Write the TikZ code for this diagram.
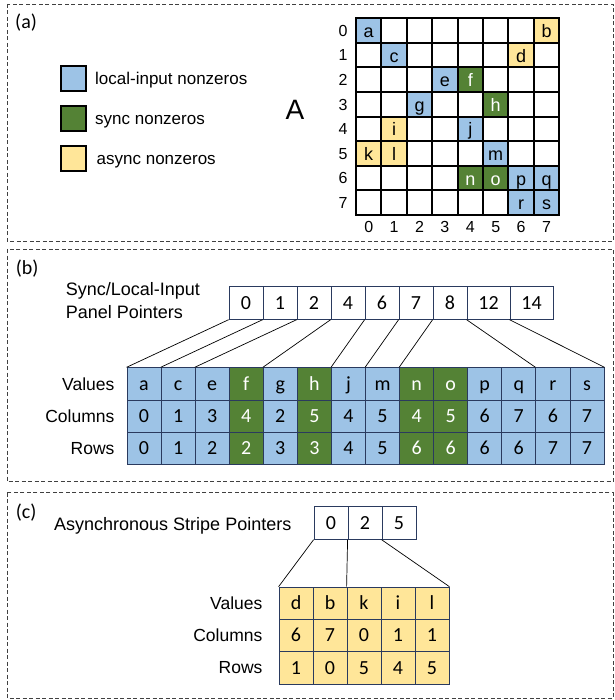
\documentclass[tikz,border=0pt]{standalone}
\usepackage{fontspec}
\setmainfont{Liberation Sans}
\newfontfamily\calib{Carlito}
\usetikzlibrary{positioning}
\definecolor{lblue}{HTML}{9DC3E6}
\definecolor{dgreen}{HTML}{548235}
\definecolor{lyellow}{HTML}{FFE699}
\definecolor{edgeblue}{HTML}{2A3A5E}
\definecolor{dashgray}{HTML}{404040}

\begin{document}
\begin{tikzpicture}[x=1pt,y=-1pt,
    panel/.style={draw=dashgray,line width=0.9pt,dash pattern=on 4pt off 2.5pt},
    tag/.style={font=\calib\fontsize{20}{24}\selectfont,inner sep=0pt,anchor=base west},
    lbl/.style={font=\fontsize{18}{21}\selectfont,inner sep=0pt},
    rowlab/.style={font=\fontsize{17.5}{20}\selectfont,inner sep=0pt},
    idx/.style={font=\fontsize{16}{18}\selectfont,inner sep=0pt,anchor=base},
    mcell/.style={draw,line width=2pt,minimum width=25.4pt,minimum height=24.6pt,inner sep=0pt,
        text height=15pt,text depth=1pt,font=\fontsize{18}{20}\selectfont},
    key/.style={draw,line width=2pt,minimum size=25pt,inner sep=0pt},
    ptr/.style={draw=edgeblue,line width=0.8pt,minimum width=34pt,minimum height=32.6pt,inner sep=0pt,
        text height=13.6pt,text depth=1pt,font=\calib\fontsize{20}{22}\selectfont},
    ent/.style={ptr,minimum width=34.07pt,minimum height=32.2pt},
    blu/.style={fill=lblue},
    grn/.style={fill=dgreen,text=white},
    ylw/.style={fill=lyellow}]
\useasboundingbox (0,0) rectangle (614,700);

% panel frames
\draw[panel] (7.3,4) rectangle (613,241.5);
\draw[panel] (7.3,249) rectangle (613,481.7);
\draw[panel] (7.3,492.7) rectangle (613,698.3);

% (a) legend and matrix
\node[tag] (taga) at (15,29) {(a)};
\node[key,blu] (kblue) at (73.5,79) {};
\node[key,grn] (kgreen) at (73.5,119) {};
\node[key,ylw] (kyellow) at (73.5,158.5) {};
\node[font=\fontsize{17}{20}\selectfont,inner sep=0pt,anchor=base west] (tblue) at (95,85) {local-input nonzeros};
\node[font=\fontsize{17}{20}\selectfont,inner sep=0pt,anchor=base west] (tgreen) at (95,125) {sync nonzeros};
\node[font=\fontsize{17}{20}\selectfont,inner sep=0pt,anchor=base west] (tyellow) at (96.5,164.5) {async nonzeros};
\node[font=\fontsize{28}{30}\selectfont,inner sep=0pt,anchor=base] (matA) at (295,120) {A};

\foreach \r in {0,...,7}{
    \foreach \c in {0,...,7}
        \node[mcell] (m\r\c) at ({368.7+25.4*\c},{30.6+24.6*\r}) {};
    \node[idx] (row\r) at (343,{36.3+24.6*\r}) {\r};
    \node[idx] (col\r) at ({368.7+25.4*\r},232.7) {\r};
}
\foreach \r/\c/\t/\s in {0/0/a/blu,0/7/b/ylw,1/1/c/blu,1/6/d/ylw,2/3/e/blu,2/4/f/grn,
        3/2/g/blu,3/5/h/grn,4/1/i/ylw,4/4/j/blu,5/0/k/ylw,5/1/l/ylw,5/5/m/blu,
        6/4/n/grn,6/5/o/grn,6/6/p/blu,6/7/q/blu,7/6/r/blu,7/7/s/blu}
    \node[mcell,\s] at (m\r\c) {\t};

% (b) panel pointers and arrays
\node[tag] (tagb) at (15.6,274) {(b)};
\node[lbl,anchor=base west] (slab) at (65.6,295) {Sync/Local-Input};
\node[lbl,anchor=base west] (plab) at (65.6,318) {Panel Pointers};
\foreach \v [count=\i from 0] in {0,1,2,4,6,7,8}
    \node[ptr] (p\i) at ({246+34*\i},303) {\v};
\node[ptr,minimum width=43pt] (p7) at (488.5,303) {12};
\node[ptr,minimum width=43pt] (p8) at (531.5,303) {14};

\foreach \j/\v/\c/\r/\s in {0/a/0/0/blu,1/c/1/1/blu,2/e/3/2/blu,3/f/4/2/grn,4/g/2/3/blu,
        5/h/5/3/grn,6/j/4/4/blu,7/m/5/5/blu,8/n/4/6/grn,9/o/5/6/grn,10/p/6/6/blu,
        11/q/7/6/blu,12/r/6/7/blu,13/s/7/7/blu}{
    \node[ent,\s] (v\j) at ({144.03+34.07*\j},383.8) {\v};
    \node[ent,\s] (c\j) at ({144.03+34.07*\j},416) {\c};
    \node[ent,\s] (r\j) at ({144.03+34.07*\j},448.2) {\r};
}
\node[rowlab,left=12pt of v0] (lvals) {Values};
\node[rowlab,left=12pt of c0] (lcols) {Columns};
\node[rowlab,left=12pt of r0] (lrows) {Rows};

\foreach \i/\j in {0/0,1/1,2/2,3/4,4/6,5/7,6/8,7/12}
    \draw[line width=0.7pt] (p\i.south west) -- (v\j.north west);
\draw[line width=0.7pt] (p8.south west) -- (v13.north east);

% (c) asynchronous stripes
\node[tag] (tagc) at (15.6,518) {(c)};
\node[lbl,anchor=base west] (alab) at (54,530) {Asynchronous Stripe Pointers};
\foreach \v [count=\i from 0] in {0,2,5}
    \node[ptr] (q\i) at ({331+34*\i},523) {\v};

\foreach \j/\v/\c/\r in {0/d/6/1,1/b/7/0,2/k/0/5,3/i/1/4,4/l/1/5}{
    \node[ent,ylw,minimum width=34pt,minimum height=32.3pt] (w\j) at ({296+34*\j},603.2) {\v};
    \node[ent,ylw,minimum width=34pt,minimum height=32.3pt] (x\j) at ({296+34*\j},635.5) {\c};
    \node[ent,ylw,minimum width=34pt,minimum height=32.3pt] (y\j) at ({296+34*\j},667.8) {\r};
}
\node[rowlab,left=16pt of w0] (avals) {Values};
\node[rowlab,left=16pt of x0] (acols) {Columns};
\node[rowlab,left=16pt of y0] (arows) {Rows};

\draw[line width=0.7pt] (q0.south west) -- (w0.north west);
\draw[line width=0.7pt] (q1.south west) -- (w2.north west);
\draw[line width=0.7pt] (q2.south west) -- (w4.north east);

\end{tikzpicture}
\end{document}
